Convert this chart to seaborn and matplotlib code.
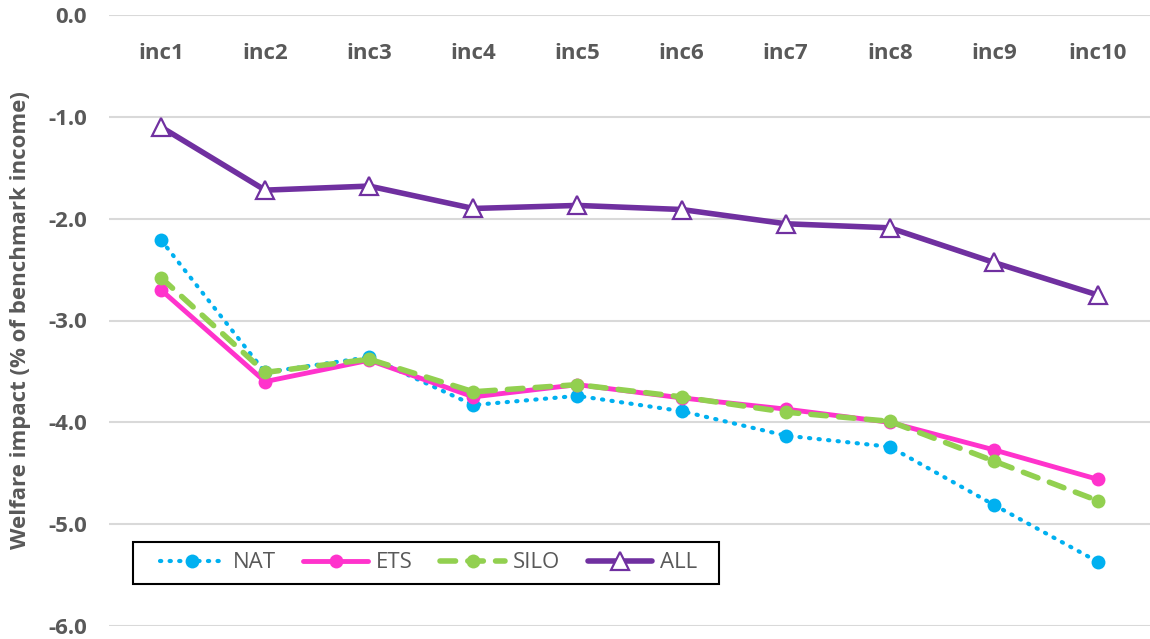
import matplotlib
matplotlib.use("Agg")
import matplotlib.pyplot as plt
from matplotlib.patches import Rectangle
import seaborn as sns
import pandas as pd

categories = ["inc1", "inc2", "inc3", "inc4", "inc5", "inc6", "inc7", "inc8", "inc9", "inc10"]
nat = [-2.21, -3.51, -3.36, -3.83, -3.74, -3.89, -4.13, -4.24, -4.81, -5.37]
ets = [-2.70, -3.60, -3.39, -3.75, -3.63, -3.76, -3.87, -4.00, -4.27, -4.56]
silo = [-2.58, -3.51, -3.38, -3.70, -3.63, -3.75, -3.90, -3.99, -4.38, -4.77]
all_ = [-1.10, -1.72, -1.68, -1.90, -1.87, -1.91, -2.05, -2.09, -2.43, -2.75]
yticks = [0.0, -1.0, -2.0, -3.0, -4.0, -5.0, -6.0]

sns.set_theme(style="white")
plt.rcParams['font.family'] = ['Open Sans', 'DejaVu Sans']

W, H = 1150, 639
fig = plt.figure(figsize=(W/100, H/100), dpi=100)
ax = fig.add_axes([109/W, 13/H, 1 - 109/W, (626-15)/H])

grey = "#595959"
df = pd.DataFrame({"cat": categories, "NAT": nat, "ETS": ets, "SILO": silo, "ALL": all_})

sns.lineplot(data=df, x="cat", y="NAT", ax=ax, color="#00B0F0", linewidth=3,
             linestyle=(0, (0.3, 2.0)), dash_capstyle="round", marker="o", markersize=10,
             markeredgewidth=0, label="NAT", sort=False)
sns.lineplot(data=df, x="cat", y="ETS", ax=ax, color="#FF33CC", linewidth=3.5,
             marker="o", markersize=10, markeredgewidth=0, label="ETS", sort=False)
sns.lineplot(data=df, x="cat", y="SILO", ax=ax, color="#92D050", linewidth=4,
             linestyle=(0, (2.8, 2.2)), dash_capstyle="round", marker="o", markersize=10,
             markeredgewidth=0, label="SILO", sort=False)
sns.lineplot(data=df, x="cat", y="ALL", ax=ax, color="#7030A0", linewidth=4,
             marker="^", markersize=13, markerfacecolor="white", markeredgecolor="#7030A0",
             markeredgewidth=1.6, label="ALL", sort=False)

ax.set_xlim(-0.5, 9.5)
ax.set_ylim(-6.0, 0.0)
ax.set_yticks(yticks)
ax.set_yticklabels([f"{v:.1f}" for v in yticks], fontsize=16, fontweight="bold", color=grey)
ax.yaxis.grid(True, color="#D9D9D9", linewidth=1.5)
ax.xaxis.grid(False)
for s in ax.spines.values():
    s.set_visible(False)
ax.tick_params(axis="y", length=0, pad=16)

ax.xaxis.tick_top()
ax.set_xticks(range(len(categories)))
ax.set_xticklabels(categories, fontsize=16, fontweight="bold", color=grey)
ax.tick_params(axis="x", length=0, pad=-35)
ax.set_xlabel("")
ax.set_ylabel("Welfare impact (% of benchmark income)", fontsize=16, fontweight="bold",
              color=grey, labelpad=12)

leg = ax.legend(loc="center left", bbox_to_anchor=(160/W, 1 - 563/H), bbox_transform=fig.transFigure,
                ncol=4, frameon=False, handlelength=2.9,
                columnspacing=1.25, handletextpad=0.36, fontsize=16, borderpad=0,
                borderaxespad=0)
for t in leg.get_texts():
    t.set_color(grey)

fig.canvas.draw()
bb = leg.get_window_extent()
x0 = bb.x0 - 27
x1 = bb.x1 + 22
rect = Rectangle((x0 / W, (H - 584) / H), (x1 - x0) / W, 42 / H, transform=fig.transFigure,
                 fill=True, facecolor="white", edgecolor="black", linewidth=1.5, zorder=4)
fig.add_artist(rect)
leg.set_zorder(5)
fig.artists.remove(rect) if False else None
leg.remove()
fig.add_artist(leg)

fig.savefig("out.png", dpi=100)
